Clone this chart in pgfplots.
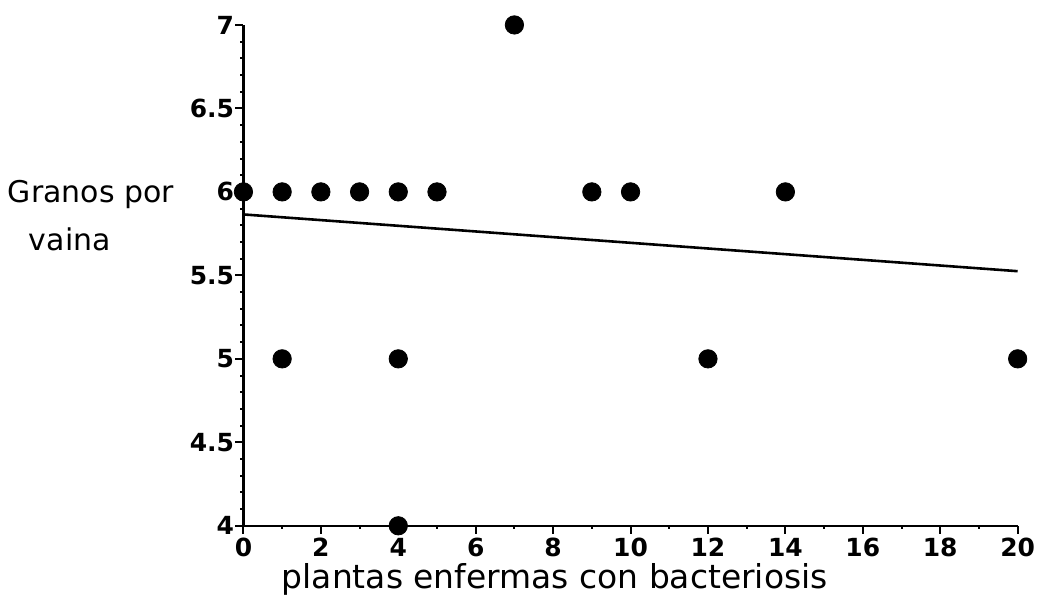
\documentclass[border=0pt]{standalone}
\usepackage{pgfplots}
\pgfplotsset{compat=1.18}
\usepackage{fontspec}
\setmainfont{DejaVu Sans}

\begin{document}
\begin{tikzpicture}
\begin{axis}[
  at={(0,0)}, anchor=south west,
  scale only axis,
  width=388pt, height=251pt,
  xmin=0, xmax=20, ymin=4, ymax=7,
  axis x line=bottom, axis y line=left,
  axis line style={-, line width=1.2pt},
  xtick={0,2,...,20},
  minor xtick={1,3,...,19},
  ytick={4,4.5,...,7},
  minor ytick={4.1,4.2,4.3,4.4,4.6,4.7,4.8,4.9,5.1,5.2,5.3,5.4,5.6,5.7,5.8,5.9,6.1,6.2,6.3,6.4,6.6,6.7,6.8,6.9},
  tick align=outside,
  major tick length=4pt, minor tick length=1.5pt,
  tick style={black, line width=1pt},
  yticklabel style={/pgf/number format/fixed, font=\fontsize{12.5}{12.5}\selectfont\bfseries, inner sep=0.5pt},
  xticklabel style={font=\fontsize{12.5}{12.5}\selectfont\bfseries, inner sep=2pt},
  /pgf/number format/assume math mode=true,
  clip=false,
]
% regression line
\addplot[black, line width=1.3pt] coordinates {(0,5.865) (20,5.525)};
% observations
\addplot[only marks, mark=*, mark size=4.6pt, black] coordinates {
  (0,6) (1,6) (2,6) (3,6) (4,6) (5,6) (9,6) (10,6) (14,6)
  (7,7)
  (1,5) (4,5) (12,5) (20,5)
  (4,4)
};
\end{axis}
\node[font=\fontsize{15}{15}\selectfont] at (-76.5pt,166pt) {Granos por};
\node[font=\fontsize{15}{15}\selectfont] at (-87pt,143.5pt) {vaina};
\node[font=\fontsize{16.5}{16.5}\selectfont] at (156pt,-27pt) {plantas enfermas con bacteriosis};
\useasboundingbox (-122pt,-39pt) rectangle (397.5pt,263.5pt);
\end{tikzpicture}
\end{document}
